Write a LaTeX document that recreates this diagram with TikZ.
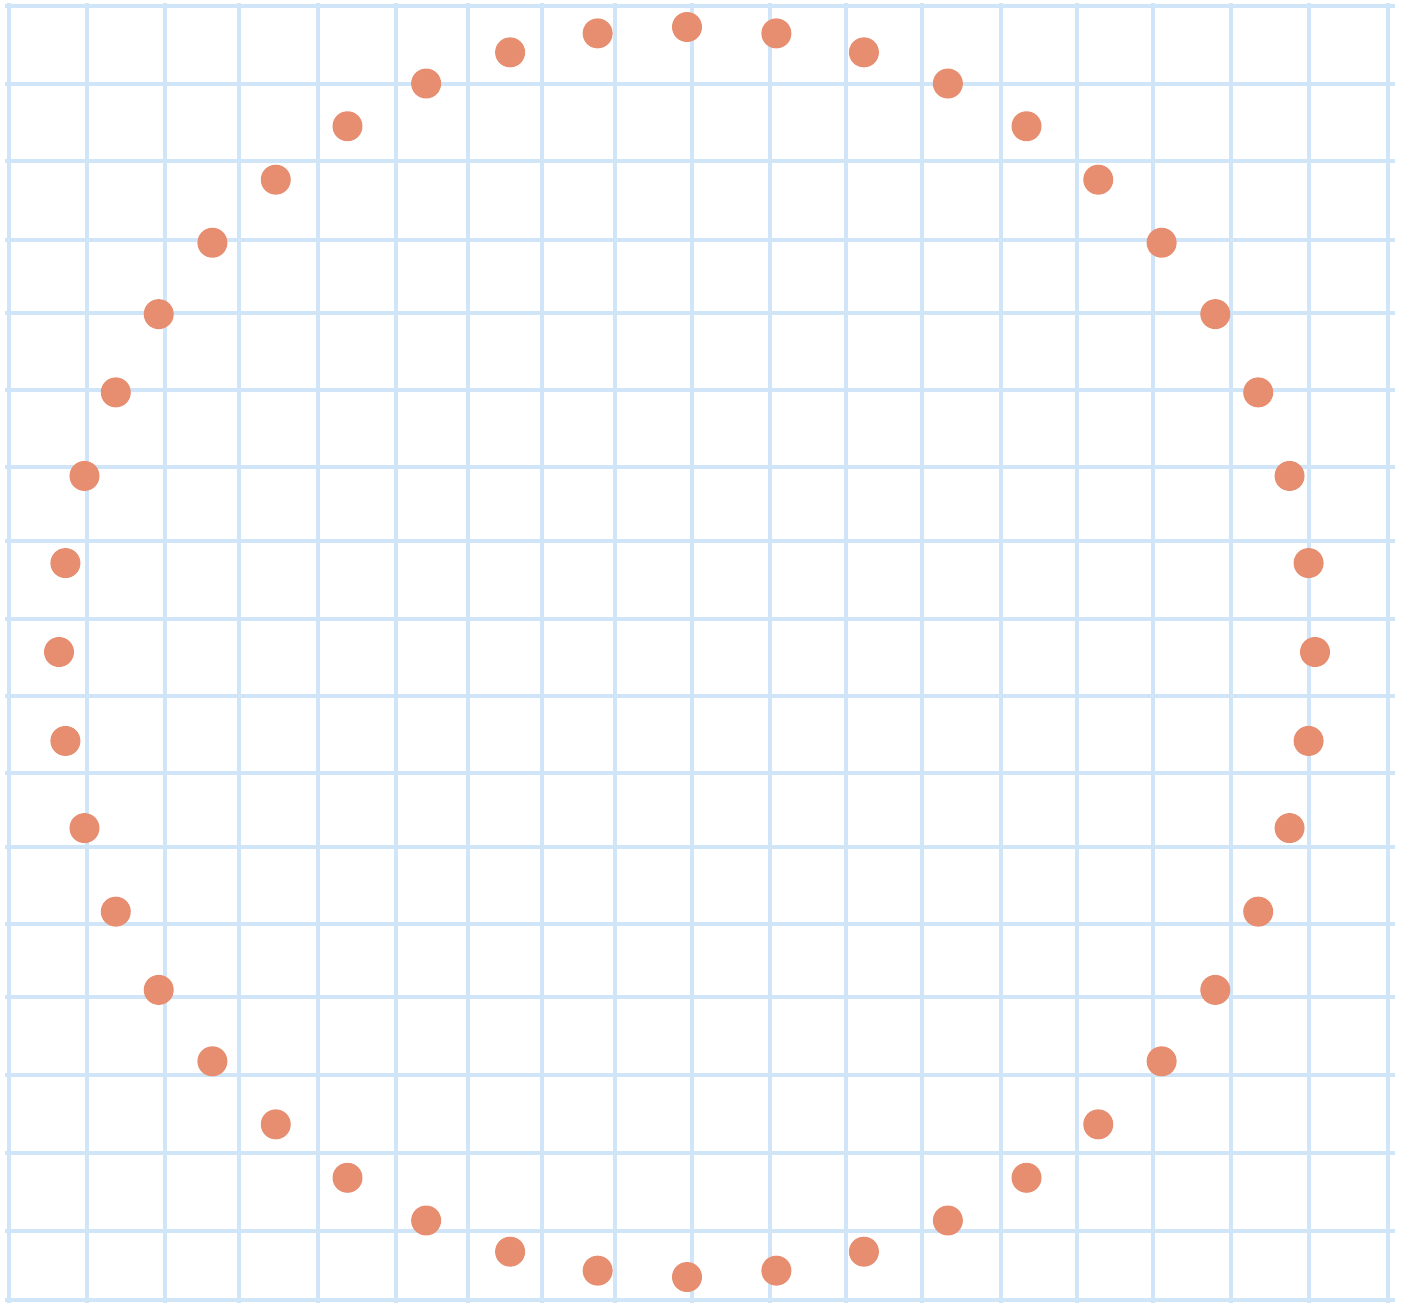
\documentclass[tikz,border=0pt]{standalone}
\usetikzlibrary{calc}
\definecolor{gridblue}{RGB}{208,229,247}
\definecolor{salmon}{RGB}{231,141,112}
\tikzset{
  gridline/.style={draw=gridblue,line width=0.08cm},
  dot/.style={fill=salmon,draw=none},
}
\begin{document}
\begin{tikzpicture}[x=0.02cm,y=-0.02cm]
  \useasboundingbox (0,0) rectangle (1406,1303);
  % paper grid
  \foreach \gx in {9,87,165,239,318,396,468,542,615,692,770,846,922,1001,1077,1153,1231,1309,1388}
    \draw[gridline] (\gx,3) -- (\gx,1303);
  \foreach \gy in {6,84,161,240,313,390,467,541,619,696,773,847,924,997,1075,1153,1231,1300}
    \draw[gridline] (5,\gy) -- (1395,\gy);
  % ring of dots
  \coordinate (centre) at (687,652);
  \foreach \i in {0,...,43}
    \fill[dot] ($(centre)+({628*cos(90-\i*360/44)},{-625*sin(90-\i*360/44)})$) circle[radius=0.3cm];
\end{tikzpicture}
\end{document}
